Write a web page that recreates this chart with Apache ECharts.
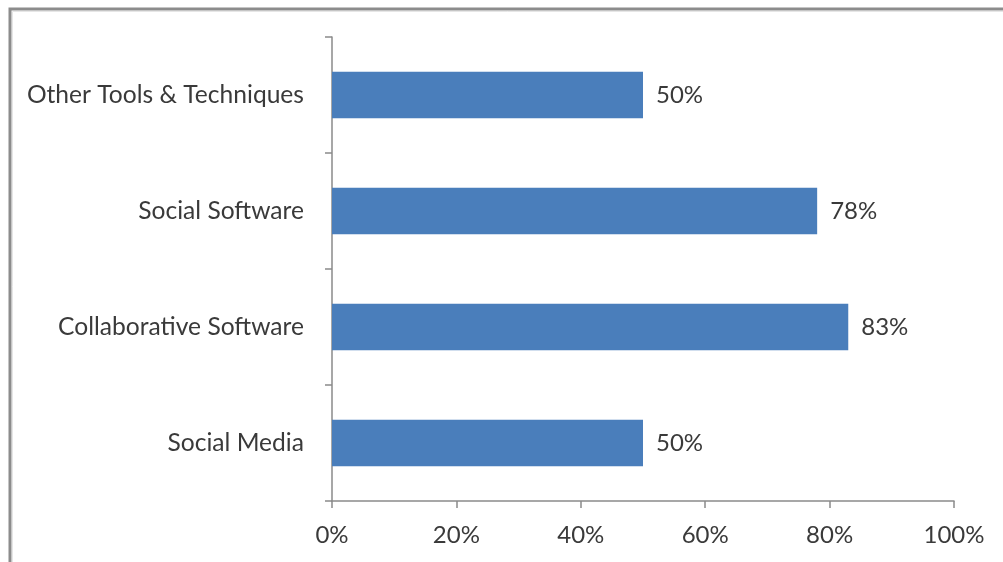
<!DOCTYPE html>
<html>
<head>
<meta charset="utf-8">
<script src="https://cdn.jsdelivr.net/npm/echarts@6/dist/echarts.min.js"></script>
<style>
  html, body { margin: 0; padding: 0; background: #fff; }
  #chart { width: 1003px; height: 562px; }
</style>
</head>
<body>
<div id="chart"></div>
<script>
// Survey results: share of respondents using each kind of tool
const categories = ['Social Media', 'Collaborative Software', 'Social Software', 'Other Tools & Techniques'];
const values = [50, 83, 78, 50];
const xTicks = [0, 20, 40, 60, 80, 100];

const FONT = 'Lato, "Open Sans", sans-serif';
const TEXT = '#3a3a3a';
const AXIS = '#8a8a8a';

const chart = echarts.init(document.getElementById('chart'), null, { renderer: 'canvas' });
chart.setOption({
  animation: false,
  backgroundColor: '#ffffff',
  grid: { left: 332, right: 49, top: 37, bottom: 61, containLabel: false },
  xAxis: {
    type: 'value',
    min: xTicks[0],
    max: xTicks[xTicks.length - 1],
    interval: xTicks[1] - xTicks[0],
    axisLine: { show: true, lineStyle: { color: AXIS, width: 1.5 } },
    axisTick: { show: true, length: 7, lineStyle: { color: AXIS, width: 1.5 } },
    splitLine: { show: false },
    axisLabel: {
      margin: 22,
      color: TEXT,
      fontFamily: FONT,
      fontSize: 24,
      formatter: v => v + '%'
    }
  },
  yAxis: {
    type: 'category',
    data: categories,
    axisLine: { show: true, lineStyle: { color: AXIS, width: 1.5 } },
    axisTick: { show: true, length: 7, lineStyle: { color: AXIS, width: 1.5 } },
    axisLabel: {
      margin: 28,
      color: TEXT,
      fontFamily: FONT,
      fontSize: 24.6
    }
  },
  series: [{
    type: 'bar',
    data: values,
    barCategoryGap: '60%',
    itemStyle: { color: '#4a7ebb' },
    label: {
      show: true,
      position: 'right',
      distance: 13,
      color: TEXT,
      fontFamily: FONT,
      fontSize: 24,
      formatter: p => p.value + '%'
    }
  }],
  graphic: [{
    type: 'polyline',
    shape: { points: [[10, 562], [10, 9], [1003, 9]] },
    style: { stroke: '#8c8c8c', lineWidth: 3, fill: null }
  }, {
    type: 'polyline',
    shape: { points: [[12.5, 562], [12.5, 11.5], [1003, 11.5]] },
    style: { stroke: '#e6e6e6', lineWidth: 1, fill: null }
  }]
});
</script>
</body>
</html>
